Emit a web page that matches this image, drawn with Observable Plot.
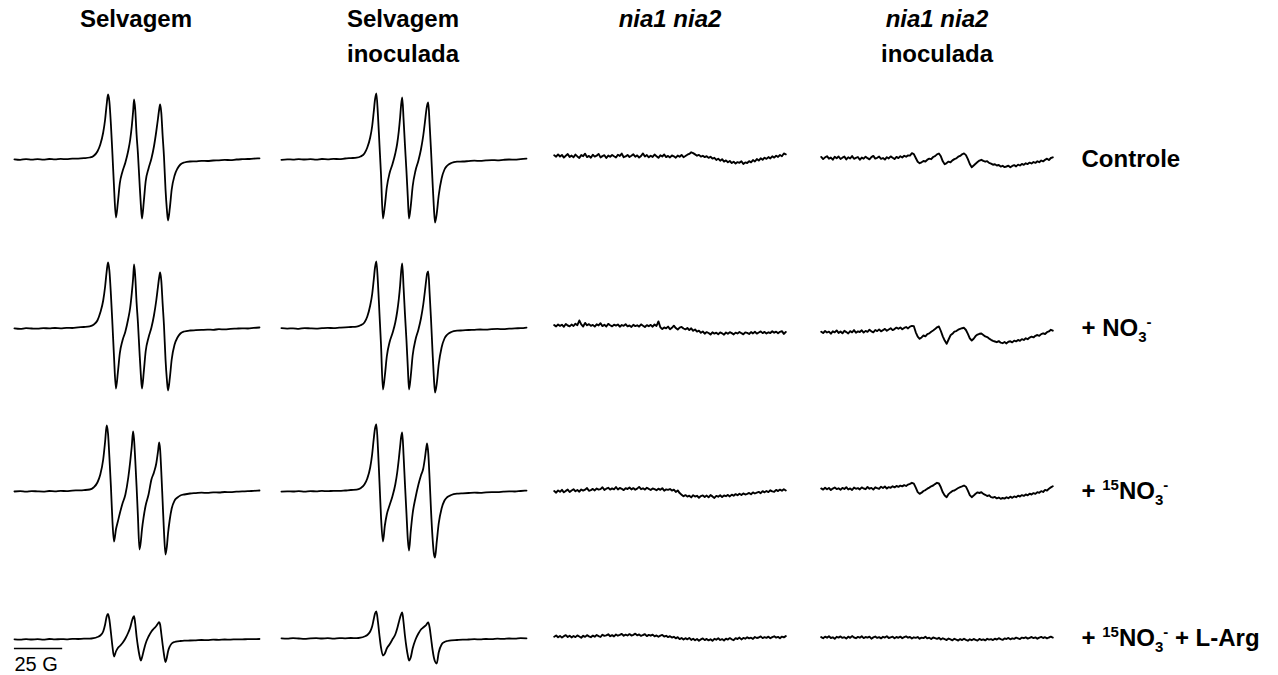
<!DOCTYPE html>
<html>
<head>
<meta charset="utf-8">
<script src="https://cdn.jsdelivr.net/npm/d3@7"></script>
<script src="https://cdn.jsdelivr.net/npm/@observablehq/plot@0.6"></script>
<style>
  body { margin: 0; background: #fff; }
  #chart { width: 1278px; }
  #chart svg { display: block; }
</style>
</head>
<body>
<div id="chart"></div>
<script>
// Column headers (genotype / treatment) and row labels (additions)
const columns = ["Selvagem", "Selvagem\ninoculada", "nia1 nia2", "nia1 nia2\ninoculada"];
const italicHeader = "nia1 nia2";
const rowLabelParts = [
  [["Controle"]],
  [["+ NO"], ["3", "sub"], ["-", "sup"]],
  [["+ "], ["15", "sup"], ["NO"], ["3", "sub"], ["-", "sup"]],
  [["+ "], ["15", "sup"], ["NO"], ["3", "sub"], ["-", "sup"], [" + L-Arg"]]
];
const scaleBarGauss = 25;

// Magnetic field (G, relative to the spectrum centre) for the NO-Fe-MGD triplet spectra
const fieldSignal = [-63,-60,-57,-54,-51,-48,-45,-42,-39,-36,-33,-30,-27,
  -24,-22,-20,-18.5,-17,-16,-15.2,-14.5,-13.8,-13,
  -12.2,-11.4,-10.4,-9.4,-8.4,-7,-5.5,-4,-3,-2.2,
  -1.5,-1,-0.4,0.3,1,1.8,2.5,3.1,4,5,
  6.5,8,9.3,10.5,11.4,12,12.5,13.1,13.8,14.5,
  15.3,16,16.6,17.5,18.5,20,21.5,23,25,28,
  31,34,37,40,43,46,49,52,55,58,61,64];

// EPR intensity (a.u.), wild type
const selvagemControle = [0.2,-0.3,0.4,-0.1,0.3,-0.2,0.5,0.1,0.6,0.3,0.8,0.9,1.3,
  2.0,3.5,8,15,27,40,55,65,58,35, 5,-27,-58,-43,-24,-12,-3,9,20,33,
  48,60,50,25,6,-22,-45,-59,-43,-22, -9,1,13,28,41,50,55,47,24,3,
  -30,-50,-61,-49,-30,-16,-9,-5,-3,-2,
  -1.8,-1.3,-1.5,-1.0,-0.8,-0.4,-0.6,0.0,0.3,0.5,0.9,1.2];
const selvagemNO3 = [0.1,-0.4,0.3,0.0,-0.2,0.4,0.1,0.5,0.2,0.7,0.5,1.1,1.5,
  2.2,3.8,8,16,28,42,57,66,58,34, 4,-28,-60,-44,-25,-12,-3,10,21,35,
  50,64,52,26,6,-23,-46,-60,-44,-23, -9,1,13,28,42,51,56,48,25,3,
  -31,-51,-62,-50,-31,-16,-9,-5,-3,-2,
  -1.7,-1.4,-1.1,-1.3,-0.7,-0.9,-0.4,-0.1,0.2,0.0,0.6,1.0];
const selvagem15NO3 = [0.0,0.3,-0.2,0.4,0.1,-0.1,0.5,0.2,0.6,0.4,0.9,1.1,1.4,
  2,4,9,17,32,50,66,58,35,5, -30,-50,-38,-30,-22,-12,-3,14,30,45,
  60,52,32,5,-25,-58,-50,-38,-25,-14, -3,12,19,28,40,49,42,20,-10,-40,
  -63,-55,-42,-28,-17,-9,-6,-4,-3,-2,
  -1.6,-1.2,-1.4,-0.9,-1.0,-0.5,-0.7,-0.2,0.1,0.3,0.7,1.0];
const selvagem15NO3Arg = [-0.8,-1.1,-0.6,-1.0,-0.7,-1.2,-0.5,-0.9,-0.6,-0.8,-0.4,-0.5,-0.2,
  -0.2,0.3,1.5,3,7,14,22,24.5,19,6, -8,-18,-13,-9.5,-7.5,-4.5,0,6,11,17,
  21,22.3,15,2,-8,-17,-22,-19,-12,-5, 2,7,10,12.5,15,16.3,14,5,-6,-16,
  -23.5,-19,-13,-8,-5,-3.5,-2.8,-2.5,-2.2,-2.0,
  -1.8,-1.5,-1.6,-1.2,-1.3,-1.0,-1.1,-0.8,-0.9,-0.6,-0.7,-0.5];

// EPR intensity (a.u.), inoculated wild type
const inoculadaControle = [-0.3,0.2,-0.1,0.4,0.0,0.3,-0.2,0.5,0.2,0.6,0.4,1.0,1.4,
  1.8,3.0,6,12,22,33,47,60,66,45, 15,-15,-59,-46,-28,-14,-5,6,16,28,
  42,54,62,40,15,-12,-38,-59,-47,-27, -11,-1,10,24,38,48,54,57,35,10,
  -22,-48,-63,-54,-36,-19,-10,-6,-3.5,-2.2,
  -2.0,-1.6,-1.2,-1.4,-0.9,-0.6,-0.8,-0.3,0.0,-0.2,0.4,0.8];
const inoculadaNO3 = [0.3,-0.1,0.2,-0.3,0.4,0.1,-0.1,0.3,0.6,0.4,0.8,1.2,1.5,
  1.9,3.2,6,12,23,34,48,61,67,46, 15,-16,-61,-47,-28,-14,-5,6,17,29,
  43,56,65,41,15,-12,-39,-61,-48,-27, -11,-1,10,24,38,48,55,57,35,10,
  -23,-49,-64,-55,-36,-19,-10,-6,-3.5,-2.2,
  -1.9,-1.5,-1.3,-1.0,-1.2,-0.6,-0.4,-0.7,-0.1,0.2,0.3,0.9];
const inoculada15NO3 = [-0.2,0.2,0.0,0.4,-0.1,0.3,0.2,0.6,0.3,0.7,0.6,1.0,1.5,
  1.8,3.2,7,13,24,37,52,63,67,44, 10,-25,-50,-34,-23,-14,-5,7,19,32,
  45,54,59,36,8,-22,-48,-59,-40,-22, -6,7,16,23,34,43,48,38,12,-18,
  -46,-62,-66,-50,-32,-17,-9,-5.5,-3.5,-2.2,
  -1.8,-1.5,-1.2,-1.3,-0.8,-0.6,-0.7,-0.2,0.1,0.0,0.5,0.9];
const inoculada15NO3Arg = [0.2,-0.2,0.3,0.0,-0.3,0.2,0.4,0.0,0.3,-0.1,0.4,0.2,0.5,
  0.3,0.8,2,3.5,7,12,19,25,27,17, 3,-9,-17,-15,-10,-6,-1,4,10,16,
  21,24,26,16,3,-9,-17,-22,-19,-10, -1,5,9,11,12.5,13.5,15,16,11,1,
  -11,-19,-23,-25,-14,-6,-3.5,-2.5,-1.8,-1.5,
  -1.2,-1.0,-0.7,-0.9,-0.5,-0.6,-0.2,-0.4,0.0,-0.1,0.3,0.2];

// Field sweep (G) for the nia1 nia2 spectra, 1 G per point
const fieldNoise = d3.range(-60, 61, 1);

// EPR intensity (a.u.), nia1 nia2
const niaControle = [4.2,2.8,5.1,3.0,4.6,1.9,3.8,5.4,2.6,3.9,
  2.2,4.9,3.1,1.6,4.4,3.3,5.8,2.4,3.6,1.8,
  4.7,2.9,3.8,5.6,2.1,3.4,4.3,1.5,3.9,2.7,
  4.5,3.2,2.0,4.8,3.6,5.9,2.3,3.1,4.6,2.5,
  3.7,5.2,2.8,4.1,1.9,3.5,6.1,3.0,4.4,2.2,
  3.8,2.6,4.9,3.3,1.7,4.2,3.0,5.0,2.4,3.6,
  2.1,4.0,3.2,1.8,3.9,2.7,4.6,2.3,3.5,4.8,
  5.6,7.2,6.4,5.1,3.8,4.6,2.9,3.7,2.4,3.3,
  1.6,2.8,0.9,1.7,-0.4,0.8,-1.2,0.3,-2.1,-0.9,
  -2.8,-1.5,-3.6,-2.2,-4.1,-2.6,-3.3,-1.8,-4.4,-2.9,
  -3.5,-1.7,-2.8,-0.6,-2.0,0.4,-1.1,1.2,-0.3,1.8,
  0.6,2.4,1.1,3.2,1.9,3.8,2.6,4.5,3.3,6.0,5.2];
const niaNO3 = [3.4,2.1,4.0,2.6,3.8,1.7,4.5,3.0,2.2,3.9,
  2.5,4.8,3.3,8.0,4.1,2.0,5.6,3.2,4.4,2.7,
  3.6,1.9,4.2,3.1,5.3,2.4,3.7,2.0,4.6,3.3,
  2.1,3.8,2.9,4.0,1.8,3.5,2.6,4.3,2.2,3.0,
  1.6,3.7,2.4,3.2,1.9,4.1,2.8,1.5,3.4,2.3,
  3.6,1.8,4.0,2.5,7.1,1.2,-0.6,1.0,0.2,1.9,
  -0.8,0.7,2.8,0.4,-1.1,0.9,1.6,0.0,-0.9,0.5,
  -1.6,0.2,-2.3,-1.0,-3.1,-2.2,-4.3,-3.0,-5.2,-3.6,
  -4.5,-6.0,-3.8,-5.1,-4.2,-5.7,-3.9,-4.8,-6.2,-4.0,
  -5.3,-3.7,-4.6,-5.9,-4.1,-5.0,-3.5,-4.7,-5.8,-3.9,
  -4.4,-5.5,-3.6,-4.9,-3.2,-5.1,-4.0,-2.9,-4.6,-3.4,
  -5.0,-3.8,-4.5,-2.7,-4.2,-3.1,-4.8,-3.3,-2.6,-5.4,-3.5];
const nia15NO3 = [0.4,-1.2,1.1,-0.3,1.7,-0.8,0.6,1.9,-0.5,1.0,
  2.2,0.3,1.5,-0.2,2.0,0.9,1.8,3.4,0.7,1.4,
  2.6,1.1,3.0,1.9,2.4,4.2,1.6,2.8,3.7,1.9,
  3.1,2.2,4.5,2.0,3.6,2.7,1.4,3.3,2.5,4.0,
  2.1,3.4,1.8,2.9,4.6,2.3,3.2,1.9,3.8,2.6,
  1.5,3.0,2.4,1.2,2.8,1.7,3.3,0.8,2.1,1.6,
  2.5,0.9,1.8,-0.4,1.1,-1.6,-3.2,-4.8,-3.6,-5.1,
  -4.2,-5.9,-3.7,-5.0,-4.3,-6.2,-4.6,-3.9,-5.5,-4.1,
  -5.8,-3.6,-4.9,-6.4,-4.4,-5.2,-3.8,-5.6,-4.0,-4.7,
  -3.4,-4.9,-3.1,-4.2,-2.6,-3.8,-2.2,-3.5,-1.9,-3.0,
  -2.3,-1.4,-2.8,-0.9,-2.0,-1.1,-0.4,-1.7,0.3,-0.8,
  0.5,-0.6,1.2,0.1,-0.3,1.6,0.4,1.9,0.7,2.3,1.0];
const nia15NO3Arg = [1.8,3.0,1.2,2.6,0.9,2.3,3.4,1.5,2.8,1.1,
  2.5,1.4,3.1,2.0,0.8,2.7,1.6,3.3,2.2,1.3,
  2.9,1.8,3.5,2.4,1.5,3.8,2.6,3.1,4.2,2.3,
  3.4,2.1,4.0,2.8,3.6,4.6,2.7,3.9,3.0,4.4,
  2.9,3.7,4.8,3.2,4.1,2.6,3.5,4.3,2.4,3.6,
  2.8,3.9,2.2,3.1,1.7,2.9,3.6,2.0,2.7,1.4,
  2.3,0.9,1.7,0.2,1.3,-0.6,0.5,-1.1,0.3,-0.8,
  0.6,-1.4,-0.2,-1.8,-0.5,-2.2,-0.9,0.1,-1.6,-0.4,
  -1.9,-0.7,-2.3,-0.3,-1.2,0.2,-1.5,-0.6,-2.0,-0.1,
  -1.1,0.4,-0.8,-1.7,0.3,-0.5,0.9,-0.9,0.6,-0.2,
  1.2,0.1,0.8,-0.4,1.5,0.5,1.0,2.1,0.4,1.3,
  0.7,1.8,0.2,1.4,2.2,0.9,1.6,0.3,1.9,1.1,2.4];

// EPR intensity (a.u.), inoculated nia1 nia2
const niaInocControle = [2.6,0.4,2.1,3.3,0.8,1.9,-0.2,2.7,1.2,3.0,
  0.5,1.8,2.9,0.1,2.2,1.0,3.4,0.7,1.6,2.5,
  -0.3,1.9,0.8,2.8,1.3,0.2,2.4,3.6,0.9,1.7,
  2.9,0.6,1.5,-0.1,2.3,1.1,3.1,1.8,0.4,2.6,
  1.4,3.2,2.0,3.7,2.8,4.1,3.9,6.3,5.4,1.5,
  -2.2,-3.7,-2.8,-1.5,-2.0,-0.2,0.8,0.3,2.5,3.4,
  5.1,6.0,3.2,-1.8,-4.8,-3.6,-2.1,-2.8,-0.9,0.4,
  1.1,2.8,3.6,5.2,6.1,4.4,0.3,-4.5,-7.7,-6.0,
  -4.2,-2.6,-1.1,-0.3,-1.4,-2.2,-1.7,-3.4,-4.1,-5.2,
  -4.8,-6.0,-5.5,-7.1,-6.3,-7.6,-7.0,-6.2,-7.8,-6.4,
  -5.6,-6.9,-5.1,-6.0,-4.4,-5.3,-3.8,-4.6,-3.1,-4.0,
  -2.5,-3.4,-1.8,-2.7,-1.0,-1.9,-0.3,0.8,-0.6,1.5,2.2];
const niaInocNO3 = [-3.2,-4.6,-2.5,-4.0,-3.1,-5.2,-2.8,-3.9,-1.9,-4.4,
  -3.0,-4.8,-2.3,-3.6,-5.0,-2.7,-3.8,-1.6,-4.2,-2.9,
  -3.5,-1.8,-4.1,-2.4,-3.3,-1.2,-2.9,-3.8,-1.5,-2.6,
  -0.9,-2.8,-1.7,-0.4,-2.2,-1.0,0.2,-1.6,-0.6,0.9,
  -0.3,1.1,-0.8,0.6,1.5,0.1,1.9,2.6,2.2,-3.8,
  -8.1,-10.3,-8.9,-7.0,-7.8,-5.6,-4.9,-3.2,-2.0,-0.6,
  1.2,2.0,-2.5,-7.8,-12.1,-15.3,-11.0,-6.8,-5.3,-3.1,
  -2.6,-1.2,-0.4,0.3,0.7,-1.5,-5.4,-9.8,-12.0,-10.2,
  -7.6,-6.1,-5.3,-5.0,-6.4,-7.9,-8.6,-10.1,-11.3,-12.4,
  -13.0,-13.7,-12.6,-14.2,-14.7,-13.5,-14.9,-13.2,-12.8,-13.9,
  -12.1,-12.9,-11.4,-12.3,-10.6,-11.5,-9.8,-10.7,-9.1,-8.2,
  -8.9,-7.3,-6.5,-7.4,-5.6,-4.8,-5.5,-3.7,-2.9,-1.3,-2.2];
const niaInoc15NO3 = [3.1,1.9,3.8,2.2,3.5,1.4,2.9,4.0,2.4,3.2,
  1.8,3.6,2.5,4.3,2.0,3.1,1.5,3.9,2.7,3.4,
  2.1,4.1,3.0,2.3,4.5,2.8,3.6,1.9,4.2,3.3,
  2.6,4.8,3.5,5.0,2.9,4.4,3.7,5.3,4.1,5.6,
  4.6,5.9,5.1,6.4,5.5,6.9,7.6,8.7,7.9,3.8,
  -0.6,-2.3,-1.2,0.5,1.4,2.8,3.9,5.2,6.0,7.4,
  8.7,8.0,4.2,-0.8,-4.1,-5.7,-2.6,-0.9,0.6,1.0,
  2.3,3.5,4.4,5.1,6.0,4.8,0.9,-3.6,-5.7,-4.1,
  -2.2,-0.9,-1.5,-0.7,-2.4,-3.3,-4.5,-3.8,-5.6,-6.2,
  -5.4,-6.9,-6.0,-7.3,-6.5,-7.1,-5.8,-6.7,-5.2,-6.3,
  -4.9,-5.7,-4.2,-5.0,-3.6,-4.4,-2.9,-3.8,-2.2,-3.0,
  -1.6,-2.4,-0.7,-1.3,0.4,-0.5,1.6,0.9,2.8,4.1,5.3];
const niaInoc15NO3Arg = [1.4,0.2,1.9,0.8,2.3,0.5,1.2,-0.3,1.7,0.9,
  2.1,0.6,1.3,-0.1,1.8,0.7,2.4,1.0,0.3,1.6,
  0.8,2.2,0.4,1.5,0.9,1.9,-0.2,1.1,2.0,0.6,
  1.4,0.1,1.7,0.9,2.3,0.5,1.2,1.8,0.2,1.5,
  0.7,1.9,0.3,1.3,2.1,0.8,1.6,0.0,1.2,0.6,
  1.5,-0.2,0.9,0.4,1.7,0.1,0.8,-0.5,1.0,0.3,
  -0.4,0.7,-1.0,0.2,-0.7,-1.5,0.0,-0.9,-1.8,-0.3,
  -1.2,-2.0,-0.6,-1.6,-0.2,-1.4,-2.2,-0.8,-1.7,-0.5,
  -1.3,-2.1,-0.4,-1.5,-0.9,-1.9,-0.3,-1.1,-0.6,-1.6,
  -0.2,-1.0,0.3,-0.7,-1.4,0.1,-0.5,0.6,-0.8,0.2,
  -0.3,0.8,0.1,-0.6,0.9,0.3,1.2,-0.1,0.7,1.5,
  0.4,1.1,-0.2,0.9,1.6,0.5,1.3,0.1,1.0,1.8,0.9];

// Spectra per row, in column order
const rowSpectra = [
  [selvagemControle, inoculadaControle, niaControle, niaInocControle],
  [selvagemNO3, inoculadaNO3, niaNO3, niaInocNO3],
  [selvagem15NO3, inoculada15NO3, nia15NO3, niaInoc15NO3],
  [selvagem15NO3Arg, inoculada15NO3Arg, nia15NO3Arg, niaInoc15NO3Arg]
];

// Layout of the four stacked rows (pixel heights and intensity window)
const rowLayout = [
  {height: 245, marginTop: 80, yDomain: [-86, 79]},
  {height: 165, marginTop: 0, yDomain: [-82, 83]},
  {height: 160, marginTop: 0, yDomain: [-79, 81]},
  {height: 105, marginTop: 0, yDomain: [-37, 68]}
];

const FONT = "'Liberation Sans', Arial, Helvetica, sans-serif";
const LABEL_SIZE = 24;
const plainLabel = parts => parts.map(p => p[0]).join("");

function rowPlot(r) {
  const layout = rowLayout[r];
  const marks = [];
  rowSpectra[r].forEach((values, c) => {
    const isTriplet = c < 2;
    const field = isTriplet ? fieldSignal : fieldNoise;
    const data = field.map((G, i) => ({col: columns[c], G, I: values[i]}));
    marks.push(Plot.line(data, {
      x: "G", y: "I", fx: "col",
      curve: isTriplet ? "monotone-x" : "linear",
      stroke: "#000",
      strokeWidth: isTriplet ? 1.8 : 1.9,
      strokeLinejoin: "round"
    }));
  });
  // row label at the right of the last column, on the baseline
  marks.push(Plot.text([{col: columns[3], v: 0, label: plainLabel(rowLabelParts[r])}], {
    fx: "col", y: "v", text: "label", frameAnchor: "right",
    textAnchor: "start", dx: 21, fontSize: LABEL_SIZE, fontWeight: "bold", fill: "#000"
  }));
  if (r === 0) {
    marks.push(Plot.text(columns, {
      fx: d => d, text: d => d, frameAnchor: "top", lineAnchor: "top",
      dy: -78, fontSize: LABEL_SIZE, fontWeight: "bold", lineHeight: 1.45, fill: "#000"
    }));
  }
  if (r === rowSpectra.length - 1) {
    const bar = [{col: columns[0], G1: fieldSignal[0], G2: fieldSignal[0] + scaleBarGauss, v: 0}];
    marks.push(Plot.ruleY(bar, {fx: "col", y: "v", x1: "G1", x2: "G2", dy: 10, stroke: "#000", strokeWidth: 1.3}));
    marks.push(Plot.text(bar, {
      fx: "col", x: "G1", y: "v", text: () => `${scaleBarGauss} G`,
      textAnchor: "start", lineAnchor: "top", dy: 18, fontSize: 20, fill: "#000"
    }));
  }
  return Plot.plot({
    width: 1278,
    height: layout.height,
    marginTop: layout.marginTop,
    marginBottom: 0,
    marginLeft: 11.5,
    marginRight: 218.5,
    x: {domain: [-64, 64], axis: null},
    y: {domain: layout.yDomain, axis: null},
    fx: {domain: columns, paddingInner: 0.075, paddingOuter: 0, axis: null},
    style: {fontFamily: FONT, background: "#fff", overflow: "visible", color: "#000"},
    marks
  });
}

// Rebuild a label as sub/superscript tspans
function richLabel(svg, parts) {
  const plain = plainLabel(parts);
  const offsets = {sup: -9, sub: 6};
  svg.querySelectorAll("text").forEach(t => {
    if (t.childElementCount || t.textContent !== plain) return;
    t.textContent = "";
    let shift = 0;
    for (const [str, kind] of parts) {
      const target = offsets[kind] || 0;
      const span = document.createElementNS("http://www.w3.org/2000/svg", "tspan");
      span.textContent = str;
      if (target !== shift) span.setAttribute("dy", target - shift);
      if (kind) span.setAttribute("font-size", 15);
      shift = target;
      t.appendChild(span);
    }
  });
}

const chart = document.getElementById("chart");
rowSpectra.forEach((_, r) => {
  const svg = rowPlot(r);
  richLabel(svg, rowLabelParts[r]);
  svg.querySelectorAll("text, tspan").forEach(el => {
    if (!el.childElementCount && el.textContent === italicHeader) el.setAttribute("font-style", "italic");
  });
  chart.appendChild(svg);
});
</script>
</body>
</html>
